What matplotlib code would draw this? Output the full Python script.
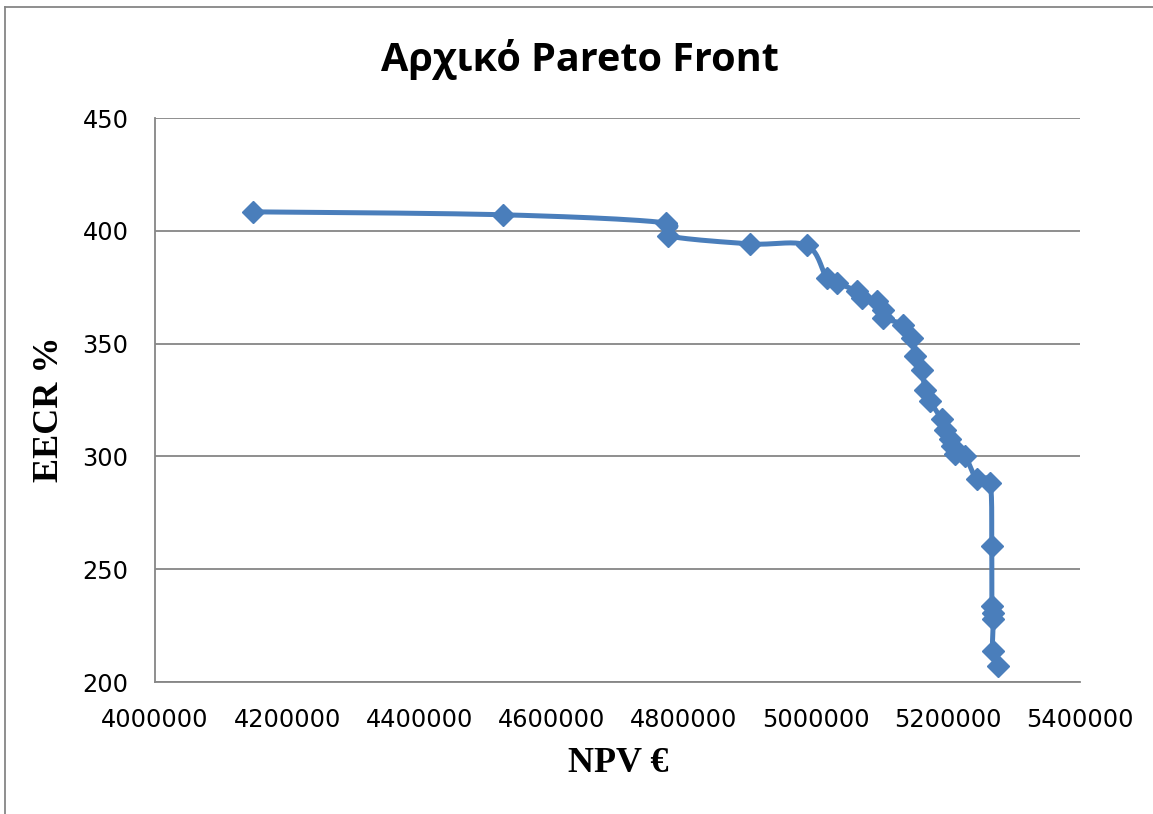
import numpy as np
import matplotlib
matplotlib.use("Agg")
import matplotlib.pyplot as plt
from matplotlib.lines import Line2D

# Pareto front points: NPV (EUR) and EECR (%)
npv = [4148300, 4526700, 4773400, 4776400, 4900500, 4986300, 5016600, 5032700,
       5062000, 5069600, 5092300, 5102300, 5102300, 5132600, 5145300, 5150300,
       5160400, 5165400, 5173000, 5190700, 5195700, 5203300, 5205800, 5210800,
       5225900, 5243600, 5263800, 5266400, 5266400, 5267900, 5268800, 5267900,
       5276300]
eecr = [408.4, 407.1, 403.5, 397.8, 394.2, 393.5, 379.1, 376.9,
        373.2, 370.2, 368.7, 365.0, 361.4, 358.4, 352.5, 344.4,
        338.5, 329.6, 324.5, 316.4, 311.9, 307.5, 304.6, 300.9,
        300.1, 289.8, 288.4, 260.3, 233.8, 230.8, 227.9, 213.8,
        207.2]

x_ticks = [4000000, 4200000, 4400000, 4600000, 4800000, 5000000, 5200000, 5400000]
y_ticks = [200, 250, 300, 350, 400, 450]

blue = "#4A7EBB"
grid_gray = "#868686"


def catmull_rom(pts, n=20):
    # smooth curve through pts (pixel space), like a spreadsheet "smoothed line"
    p = np.vstack([pts[0], pts, pts[-1]])
    out = []
    t = np.linspace(0, 1, n, endpoint=False)[:, None]
    for i in range(1, len(p) - 2):
        p0, p1, p2, p3 = p[i - 1], p[i], p[i + 1], p[i + 2]
        seg = 0.5 * ((2 * p1) + (-p0 + p2) * t
                     + (2 * p0 - 5 * p1 + 4 * p2 - p3) * t ** 2
                     + (-p0 + 3 * p1 - 3 * p2 + p3) * t ** 3)
        out.append(seg)
    out.append(p[-2][None, :])
    return np.vstack(out)


fig = plt.figure(figsize=(11.53, 8.14), dpi=100)
ax = fig.add_axes([155 / 1153, 1 - 682 / 814, 925 / 1153, 564 / 814])

ax.set_xlim(4000000, 5400000)
ax.set_ylim(200, 450)
ax.set_xticks(x_ticks)
ax.set_yticks(y_ticks)
ax.set_xticklabels([str(v) for v in x_ticks])
ax.set_yticklabels([str(v) for v in y_ticks])
ax.tick_params(length=0, labelsize=17.3, colors="black")
ax.tick_params(axis="y", pad=19)
ax.tick_params(axis="x", pad=19)

ax.grid(axis="y", color=grid_gray, linewidth=1.3)
ax.set_axisbelow(True)
for side in ["top", "right"]:
    ax.spines[side].set_visible(False)
for side in ["left", "bottom"]:
    ax.spines[side].set_color(grid_gray)
    ax.spines[side].set_linewidth(1.3)

# smoothed connecting line, built in display space then mapped back
fig.canvas.draw()
pix = ax.transData.transform(np.column_stack([npv, eecr]))
curve = ax.transData.inverted().transform(catmull_rom(pix))
ax.plot(curve[:, 0], curve[:, 1], color=blue, linewidth=3.6,
        solid_capstyle="round", zorder=3)
ax.plot(npv, eecr, linestyle="none", marker="D", markersize=11.5,
        color=blue, markeredgecolor=blue, zorder=4, clip_on=False)

fig.text(0.503, 1 - 60 / 814, "Αρχικό Pareto Front", ha="center", va="center",
         fontsize=28.5, fontweight="bold", family=["Open Sans", "DejaVu Sans"])
fig.text(0.5 * (568 + 668) / 1153, 1 - 763 / 814, "NPV €", ha="center", va="center",
         fontsize=26, fontweight="bold", family="Liberation Serif")
fig.text(50 / 1153, 1 - 409 / 814, "EECR %", ha="center", va="center", rotation=90,
         fontsize=26, fontweight="bold", family="Liberation Serif")

# chart area border
fig.add_artist(Line2D([5 / 1153, 5 / 1153], [0, 1 - 6.5 / 814],
                      transform=fig.transFigure, color=grid_gray, linewidth=1.3))
fig.add_artist(Line2D([5 / 1153, 1], [1 - 6.5 / 814, 1 - 6.5 / 814],
                      transform=fig.transFigure, color=grid_gray, linewidth=1.3))

fig.savefig("out.png", dpi=100)
